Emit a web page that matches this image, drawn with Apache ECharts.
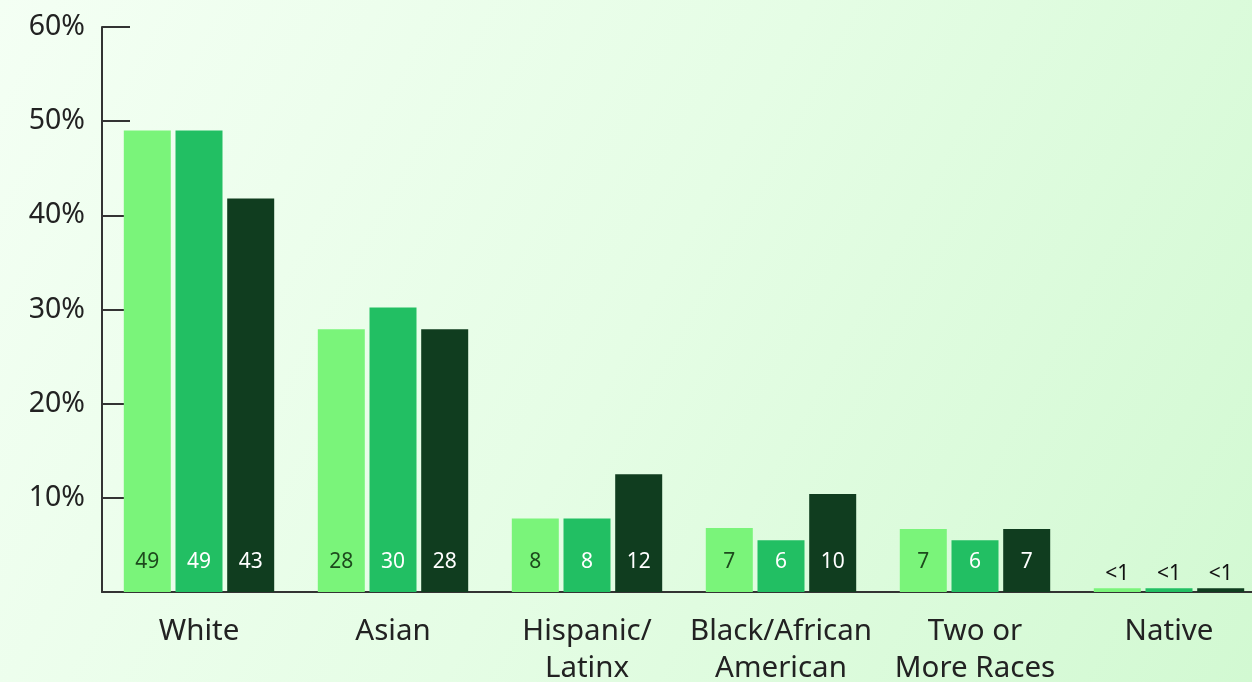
<!DOCTYPE html>
<html>
<head>
<meta charset="utf-8">
<script src="https://cdn.jsdelivr.net/npm/echarts@6/dist/echarts.min.js"></script>
<style>html,body{margin:0;padding:0;}#c{width:1252px;height:682px;}</style>
</head>
<body>
<div id="c"></div>
<script>
const categories = ['White', 'Asian', 'Hispanic/\nLatinx', 'Black/African\nAmerican', 'Two or\nMore Races', 'Native'];
const seriesA = [49, 27.9, 7.8, 6.8, 6.7, 0.4];
const seriesB = [49, 30.2, 7.8, 5.5, 5.5, 0.4];
const seriesC = [41.8, 27.9, 12.5, 10.4, 6.7, 0.4];
const labelsA = ['49', '28', '8', '7', '7', '<1'];
const labelsB = ['49', '30', '8', '6', '6', '<1'];
const labelsC = ['43', '28', '12', '10', '7', '<1'];
const yTicks = [0, 10, 20, 30, 40, 50, 60];

const colors = ['#7af47a', '#22bf63', '#103d1f'];
const labelColors = ['#1d4a1d', '#ffffff', '#ffffff'];
const font = '"Noto Sans", "Open Sans", sans-serif';

function mkSeries(vals, labels, idx) {
  return {
    type: 'bar',
    barWidth: 47,
    barGap: '10%',
    data: vals.map((v, i) => {
      const d = { value: v, lbl: labels[i] };
      if (labels[i] === '<1') {
        d.label = { position: 'top', distance: 4, color: '#111' };
      }
      return d;
    }),
    itemStyle: { color: colors[idx] },
    label: {
      show: true,
      position: 'insideBottom',
      distance: 19,
      fontSize: 21,
      fontFamily: font,
      color: labelColors[idx],
      formatter: p => p.data.lbl
    }
  };
}

const chart = echarts.init(document.getElementById('c'));
chart.setOption({
  backgroundColor: new echarts.graphic.LinearGradient(0, 0, 1, 1, [
    { offset: 0, color: '#f4fff4' },
    { offset: 0.5, color: '#e5fde5' },
    { offset: 1, color: '#d2f9d2' }
  ]),
  animation: false,
  grid: { left: 102, right: -14, top: 27, bottom: 90, containLabel: false, outerBoundsMode: 'none' },
  xAxis: {
    type: 'category',
    data: categories,
    axisLine: { lineStyle: { color: '#333', width: 2 } },
    axisTick: { inside: true, length: 13, lineStyle: { color: '#333', width: 2 } },
    axisLabel: { fontSize: 29.5, fontFamily: font, color: '#222', margin: 21, lineHeight: 37, interval: 0 }
  },
  yAxis: {
    type: 'value',
    min: yTicks[0],
    max: yTicks[yTicks.length - 1],
    interval: 10,
    splitLine: { show: false },
    axisLine: { show: true, lineStyle: { color: '#333', width: 2 } },
    axisTick: { show: true, inside: true, length: 28, lineStyle: { color: '#333', width: 2 } },
    axisLabel: {
      fontSize: 28.5, fontFamily: font, color: '#222', margin: 17,
      formatter: v => v === 0 ? '' : v + '%'
    }
  },
  series: [mkSeries(seriesA, labelsA, 0), mkSeries(seriesB, labelsB, 1), mkSeries(seriesC, labelsC, 2)]
});
</script>
</body>
</html>
